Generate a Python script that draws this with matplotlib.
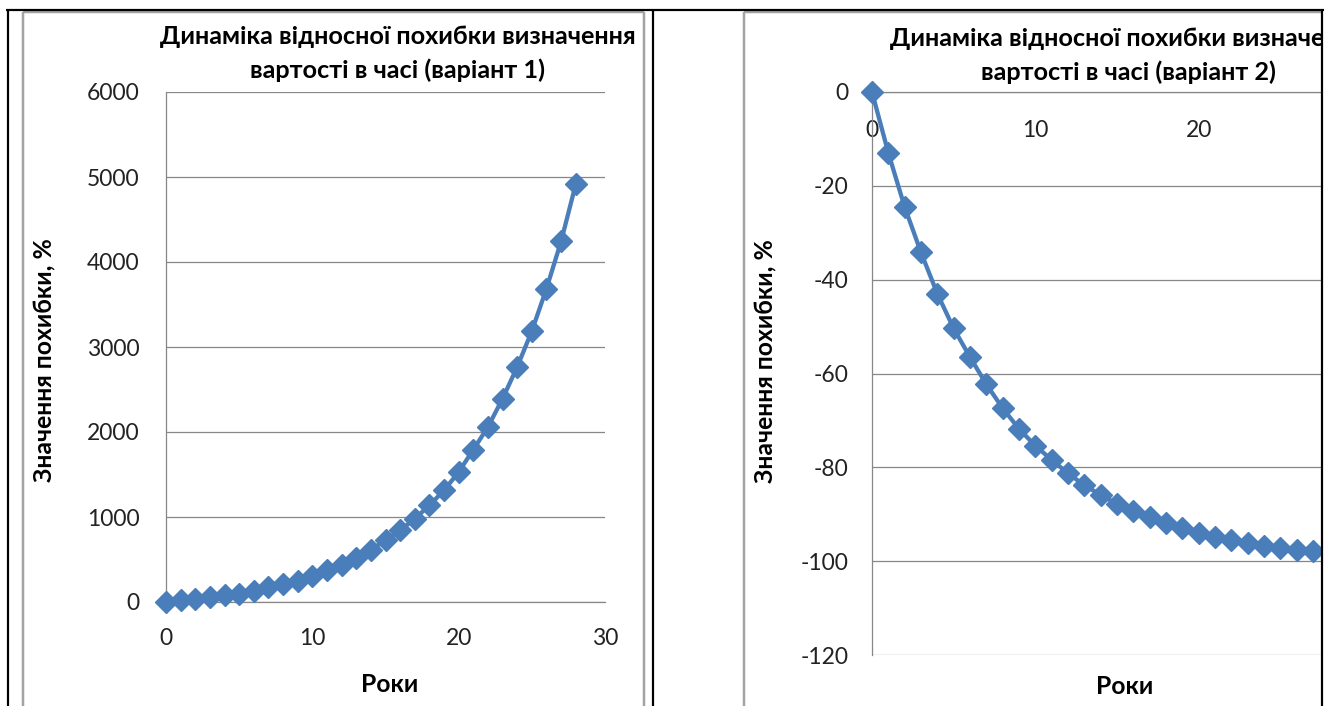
import matplotlib
matplotlib.use('Agg')
import matplotlib.pyplot as plt
from matplotlib.lines import Line2D
from matplotlib.patches import Rectangle

# ---- data ----
years = list(range(29))
err_v1 = [0, 20, 39, 59, 78, 100, 130, 176, 208, 250, 310, 373, 431, 522, 616,
          725, 843, 980, 1137, 1314, 1529, 1792, 2059, 2392, 2765, 3188, 3686,
          4243, 4914]
err_v2 = [0, -13.0, -24.5, -34.2, -43.0, -50.4, -56.5, -62.3, -67.4, -71.8,
          -75.4, -78.4, -81.3, -83.8, -85.9, -87.8, -89.3, -90.5, -91.9, -93.0,
          -93.9, -94.8, -95.5, -96.2, -96.8, -97.2, -97.7, -97.9, -98.0]
title_line1 = 'Динаміка відносної похибки визначення'
title_v1 = 'вартості в часі (варіант 1)'
title_v2 = 'вартості в часі (варіант 2)'
ylabel = 'Значення похибки, %'
xlabel = 'Роки'
xticks_v1 = [0, 10, 20, 30]
xticks_v2 = [0, 10, 20]
yticks_v1 = [0, 1000, 2000, 3000, 4000, 5000, 6000]
yticks_v2 = [-120, -100, -80, -60, -40, -20, 0]

plt.rcParams['font.family'] = ['Lato', 'DejaVu Sans']
plt.rcParams['axes.unicode_minus'] = False

W, H = 1335, 706
fig = plt.figure(figsize=(W / 100, H / 100), dpi=100)
fig.patch.set_facecolor('white')


def fx(x):
    return x / W


def fy(y):
    return 1 - y / H


def pline(x0, y0, x1, y1, color, lw_px, z=5):
    fig.add_artist(Line2D([fx(x0), fx(x1)], [fy(y0), fy(y1)],
                          transform=fig.transFigure, color=color,
                          linewidth=lw_px * 0.72, zorder=z,
                          solid_capstyle='butt'))


BLUE = '#4A7EBB'
GRID = '#878787'
FS_TICK = 16.5
FS_LBL = 17.8
FS_TITLE = 18.2


def style_axes(ax):
    ax.set_facecolor('none')
    ax.grid(axis='y', color=GRID, linewidth=0.9)
    ax.grid(axis='x', visible=False)
    ax.set_axisbelow(True)
    for s in ['top', 'right']:
        ax.spines[s].set_visible(False)
    ax.spines['left'].set_color(GRID)
    ax.spines['left'].set_linewidth(0.9)
    ax.spines['bottom'].set_color(GRID)
    ax.spines['bottom'].set_linewidth(0.9)
    ax.tick_params(length=0, labelsize=FS_TICK, colors='#222222')


# ---- left chart ----
ax1 = fig.add_axes([fx(166), fy(602), (605 - 166) / W, (602 - 92) / H])
style_axes(ax1)
ax1.set_xlim(0, 30)
ax1.set_ylim(0, 6000)
ax1.set_xticks(xticks_v1)
ax1.set_yticks(yticks_v1)
ax1.tick_params(axis='x', pad=19)
ax1.tick_params(axis='y', pad=19)
ax1.plot(years, err_v1, color=BLUE, lw=3.1, marker='D', ms=11.5, mew=1,
         mfc=BLUE, mec=BLUE, clip_on=False, zorder=3)

# ---- right chart ----
ax2 = fig.add_axes([fx(872), fy(655), (1362 - 872) / W, (655 - 92) / H])
style_axes(ax2)
ax2.set_xlim(0, 30)
ax2.set_ylim(-120, 0)
ax2.set_xticks(xticks_v2)
ax2.set_yticks(yticks_v2)
ax2.spines['bottom'].set_position(('data', 0))
ax2.tick_params(axis='x', pad=20)
ax2.tick_params(axis='y', pad=17)
ax2.plot(years, err_v2, color=BLUE, lw=3.1, marker='D', ms=11.5, mew=1,
         mfc=BLUE, mec=BLUE, clip_on=False, zorder=3)

# ---- titles and labels ----
fig.text(fx(398), fy(37), title_line1, ha='center', va='center',
         fontsize=FS_TITLE, fontweight='bold')
fig.text(fx(398), fy(70), title_v1, ha='center', va='center',
         fontsize=FS_TITLE, fontweight='bold')
fig.text(fx(1128), fy(38), title_line1, ha='center', va='center',
         fontsize=FS_TITLE, fontweight='bold')
fig.text(fx(1128), fy(72), title_v2, ha='center', va='center',
         fontsize=FS_TITLE, fontweight='bold')

fig.text(fx(45), fy(360), ylabel, ha='center', va='center', rotation=90,
         fontsize=FS_LBL, fontweight='bold')
fig.text(fx(766), fy(361), ylabel, ha='center', va='center', rotation=90,
         fontsize=FS_LBL, fontweight='bold')
fig.text(fx(390), fy(685), xlabel, ha='center', va='center',
         fontsize=FS_LBL, fontweight='bold')
fig.text(fx(1125), fy(687), xlabel, ha='center', va='center',
         fontsize=FS_LBL, fontweight='bold')

# ---- chart frames (gray) ----
FRAME = '#A3A3A3'
pline(23, 12, 644, 12, FRAME, 2.5)
pline(23, 12, 23, 710, FRAME, 2.5)
pline(644, 12, 644, 710, FRAME, 2.5)
pline(744, 12, 1330, 12, FRAME, 2.5)
pline(744, 12, 744, 710, FRAME, 2.5)

# ---- mask for the part of the right chart cut off by the table cell ----
fig.add_artist(Rectangle((fx(1323), 0), 1 - fx(1323), 1,
                         transform=fig.transFigure, facecolor='white',
                         edgecolor='none', zorder=8))

# ---- table borders (black) ----
pline(6, 10, 1324, 10, 'black', 2.2, z=10)
pline(8, 9, 8, 710, 'black', 2.2, z=10)
pline(652.5, 9, 652.5, 710, 'black', 2.2, z=10)
pline(1322, 9, 1322, 710, 'black', 2.2, z=10)

fig.savefig('out.png', dpi=100)
